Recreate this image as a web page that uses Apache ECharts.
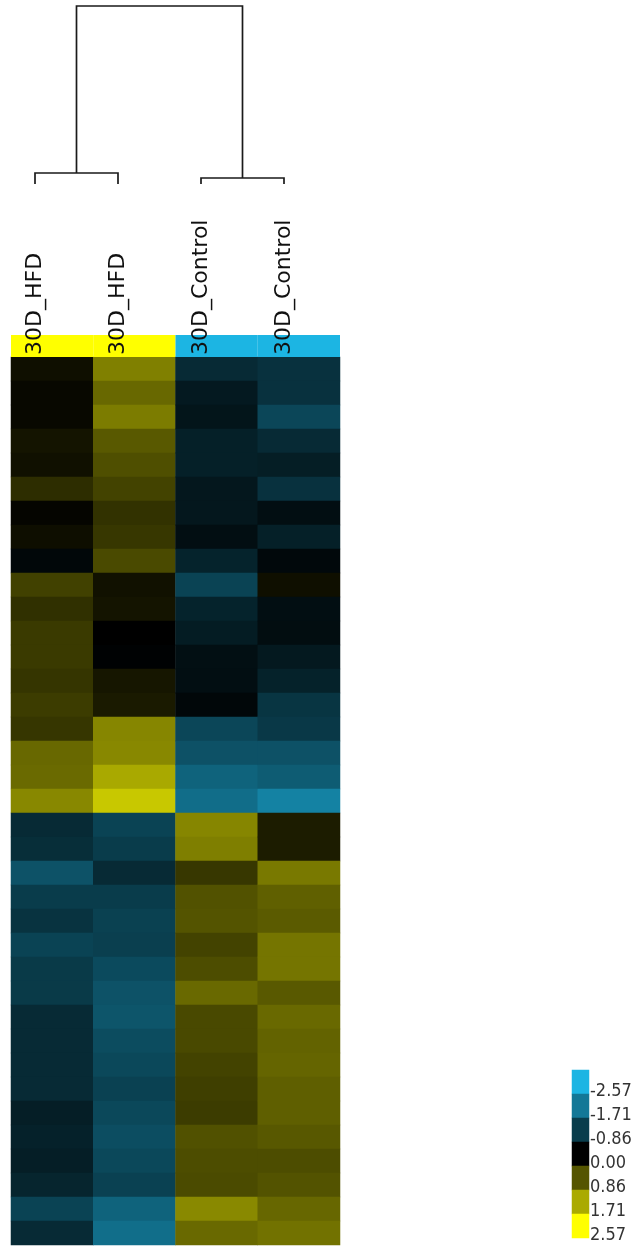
<!DOCTYPE html>
<html>
<head>
<meta charset="utf-8">
<script src="https://cdn.jsdelivr.net/npm/echarts@6/dist/echarts.min.js"></script>
<style>
  html, body { margin: 0; padding: 0; background: #fff; }
  #chart { width: 631px; height: 1247px; }
</style>
</head>
<body>
<div id="chart"></div>
<script>
// samples (columns) and their groups
const samples = ['30D_HFD', '30D_HFD', '30D_Control', '30D_Control'];
const groups = ['HFD', 'HFD', 'Control', 'Control'];
const groupColors = { HFD: '#ffff00', Control: '#1cb5e3' };

// row-scaled expression per sample, top row first (37 genes)
const hfd1 = [0.15, 0.08, 0.08, 0.20, 0.16, 0.45, 0.05, 0.14, -0.10, 0.66, 0.48, 0.58, 0.58,
  0.53, 0.60, 0.54, 1.05, 1.07, 1.37, -0.60, -0.65, -1.17, -0.85, -0.72, -0.95, -0.82, -0.82,
  -0.60, -0.60, -0.60, -0.60, -0.43, -0.47, -0.43, -0.52, -0.95, -0.60];
const hfd2 = [1.29, 1.05, 1.25, 0.90, 0.80, 0.68, 0.50, 0.55, 0.75, 0.17, 0.20, 0.00, -0.03,
  0.22, 0.26, 1.35, 1.37, 1.70, 2.02, -0.95, -0.85, -0.60, -0.85, -0.92, -0.90, -1.05, -1.17,
  -1.20, -1.08, -1.02, -0.93, -1.02, -1.10, -1.02, -0.93, -1.40, -1.56];
const ctrl1 = [-0.60, -0.36, -0.30, -0.45, -0.45, -0.33, -0.33, -0.20, -0.50, -0.95, -0.50, -0.40, -0.22,
  -0.20, -0.10, -1.00, -1.15, -1.40, -1.55, 1.35, 1.28, 0.55, 0.83, 0.85, 0.68, 0.78, 1.06,
  0.74, 0.74, 0.68, 0.63, 0.60, 0.82, 0.78, 0.76, 1.38, 1.06];
const ctrl2 = [-0.70, -0.70, -1.00, -0.60, -0.42, -0.70, -0.20, -0.45, -0.12, 0.15, -0.20, -0.18, -0.35,
  -0.48, -0.75, -0.80, -1.15, -1.30, -1.85, 0.28, 0.28, 1.22, 0.97, 0.92, 1.18, 1.18, 0.90,
  1.06, 1.00, 1.02, 0.96, 0.96, 0.89, 0.78, 0.84, 1.04, 1.15];
const columns = [hfd1, hfd2, ctrl1, ctrl2];

// dendrogram merges: [leftX, leftHeight, rightX, rightHeight, mergeHeight]
const dendroMerges = [
  [0, 0, 1, 0, 11],
  [2, 0, 3, 0, 6],
  [0.5, 11, 2.5, 6, 178]
];

// colour key ticks
const legendTicks = [-2.57, -1.71, -0.86, 0, 0.86, 1.71, 2.57];

const genes = hfd1.map((_, i) => 'g' + (i + 1));
const heatData = [];
columns.forEach((col, x) => col.forEach((v, y) => heatData.push([x, y, v])));

const chart = echarts.init(document.getElementById('chart'));
const noBounds = { outerBoundsMode: 'none', containLabel: false };

chart.setOption({
  animation: false,
  backgroundColor: '#fff',
  grid: [
    { left: 35, right: 347, top: 6, height: 178, ...noBounds },
    { left: 35, right: 347, top: 356, height: 1, ...noBounds },
    { left: 11, right: 291, top: 335, height: 22, ...noBounds },
    { left: 11, right: 291, top: 357, height: 888, ...noBounds },
    { left: 572, right: 42, top: 1070, height: 168, ...noBounds }
  ],
  xAxis: [
    { gridIndex: 0, type: 'value', min: 0, max: 3, show: false },
    {
      gridIndex: 1, type: 'category', data: samples, boundaryGap: false, position: 'top', z: 10,
      axisLine: { show: false }, axisTick: { show: false }, splitLine: { show: false },
      axisLabel: { rotate: 90, margin: 1, interval: 0, fontSize: 22, fontFamily: 'DejaVu Sans', color: '#111' }
    },
    { gridIndex: 2, type: 'category', data: samples, show: false },
    { gridIndex: 3, type: 'category', data: samples, show: false },
    { gridIndex: 4, type: 'category', data: ['key'], show: false }
  ],
  yAxis: [
    { gridIndex: 0, type: 'value', min: 0, max: 178, show: false },
    { gridIndex: 1, type: 'value', show: false },
    { gridIndex: 2, type: 'value', min: 0, max: 1, show: false },
    { gridIndex: 3, type: 'category', data: genes, inverse: true, show: false },
    {
      gridIndex: 4, type: 'category', data: legendTicks.map(v => v.toFixed(2)), inverse: true,
      position: 'right', axisLine: { show: false }, axisTick: { show: false },
      axisLabel: {
        margin: 1, interval: 0, fontSize: 18, color: '#333', verticalAlign: 'top',
        fontFamily: '"Liberation Sans Narrow", "DejaVu Sans Condensed", "Liberation Sans", sans-serif'
      }
    }
  ],
  visualMap: {
    type: 'continuous', show: false, min: -2.57, max: 2.57, dimension: 2,
    seriesIndex: [2, 3],
    inRange: { color: ['#1cb5e3', '#000000', '#ffff00'] }
  },
  series: [
    {
      type: 'custom', xAxisIndex: 0, yAxisIndex: 0, silent: true,
      data: dendroMerges,
      renderItem: (params, api) => {
        const p1 = api.coord([api.value(0), api.value(1)]);
        const p2 = api.coord([api.value(0), api.value(4)]);
        const p3 = api.coord([api.value(2), api.value(4)]);
        const p4 = api.coord([api.value(2), api.value(3)]);
        return {
          type: 'polyline',
          shape: { points: [p1, p2, p3, p4] },
          style: { stroke: '#1a1a1a', lineWidth: 1.7, fill: null }
        };
      }
    },
    {
      type: 'bar', xAxisIndex: 2, yAxisIndex: 2, silent: true, barWidth: '100%',
      data: groups.map(g => ({ value: 1, itemStyle: { color: groupColors[g] } }))
    },
    {
      type: 'heatmap', xAxisIndex: 3, yAxisIndex: 3, silent: true,
      data: heatData
    },
    {
      type: 'heatmap', xAxisIndex: 4, yAxisIndex: 4, silent: true,
      data: legendTicks.map((v, i) => [0, i, v])
    }
  ]
});
</script>
</body>
</html>
